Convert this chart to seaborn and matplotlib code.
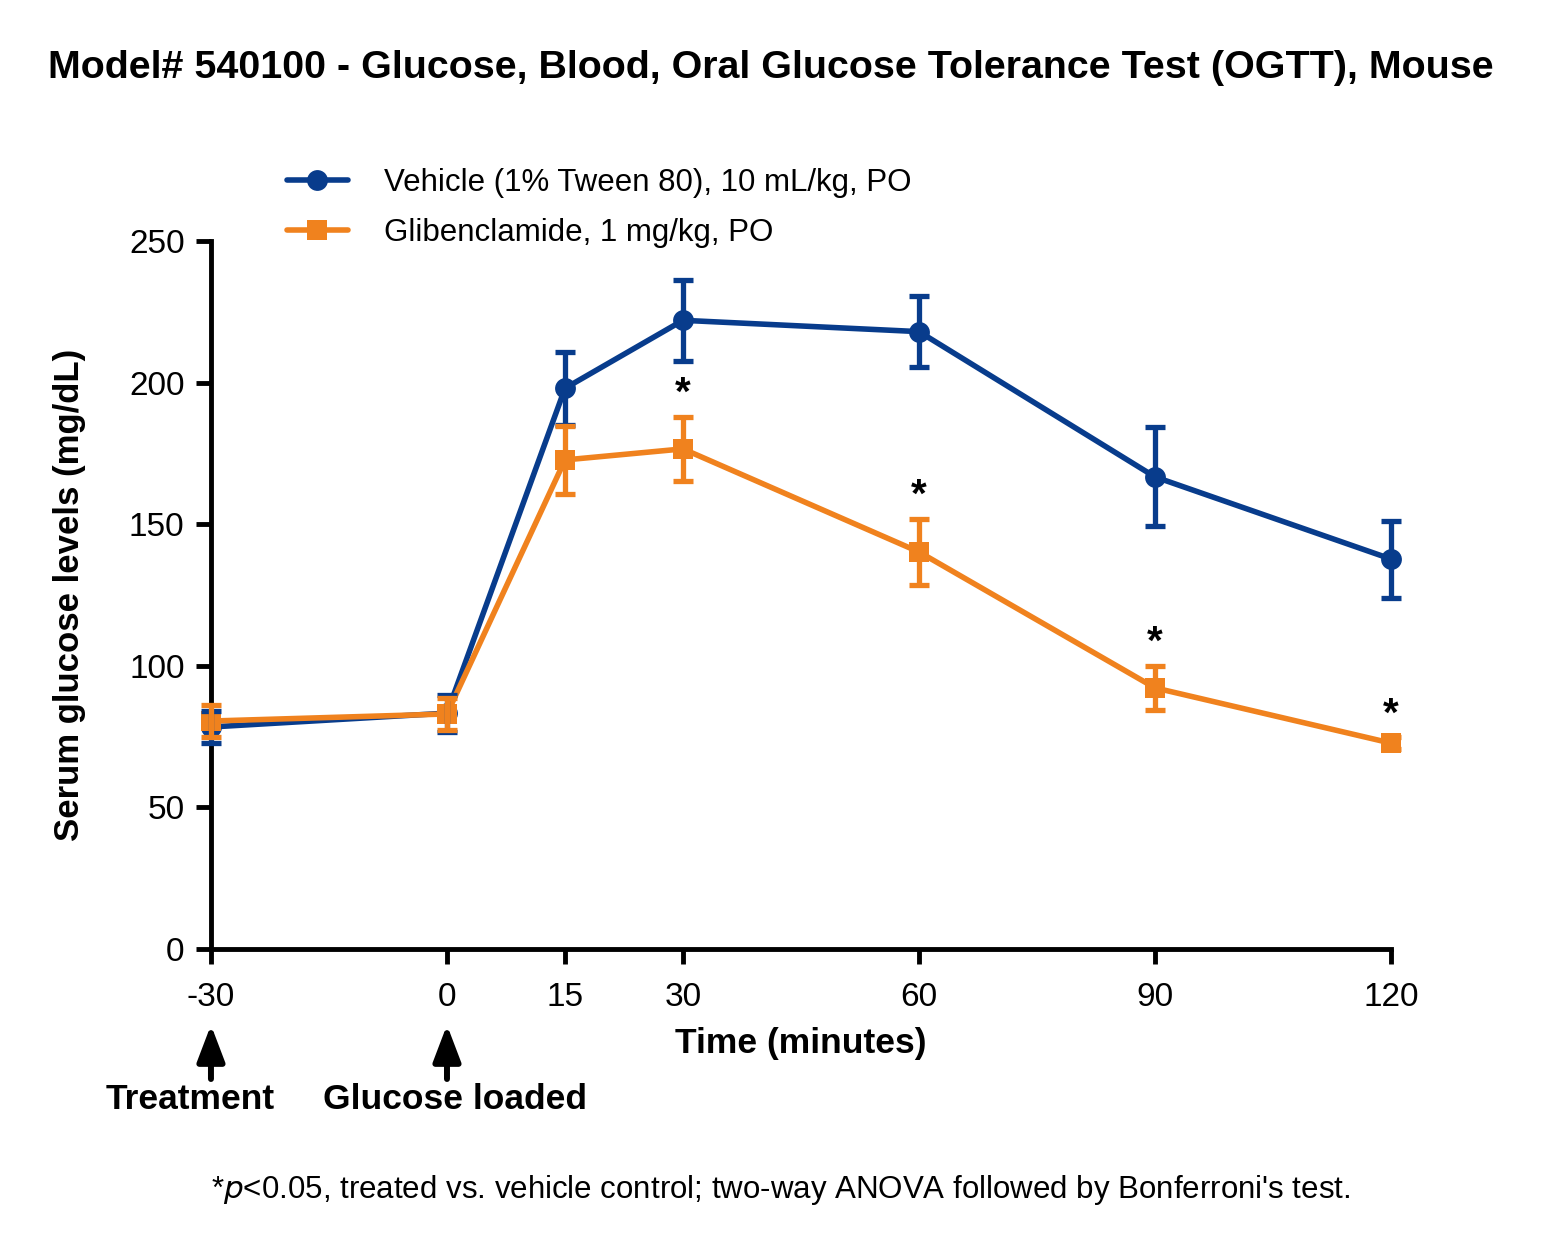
import matplotlib
matplotlib.use('Agg')
import matplotlib.pyplot as plt
import seaborn as sns
import pandas as pd

times = [-30, 0, 15, 30, 60, 90, 120]
tick_labels = ['-30', '0', '15', '30', '60', '90', '120']
vehicle = [78.4, 83.3, 198, 222, 218, 166.7, 137.7]
vehicle_sem = [5.7, 6.5, 12.8, 14.2, 12.6, 17.5, 13.6]
glib = [80.5, 83, 172.7, 176.6, 140.2, 92.2, 72.7]
glib_sem = [5.5, 5.8, 12, 11.3, 11.7, 7.7, 2]
star_times = [30, 60, 90, 120]

vehicle_name = 'Vehicle (1% Tween 80), 10 mL/kg, PO'
glib_name = 'Glibenclamide, 1 mg/kg, PO'
blue = '#083C8C'
orange = '#F0821E'

df = pd.DataFrame({
    'time': times * 2,
    'glucose': vehicle + glib,
    'sem': vehicle_sem + glib_sem,
    'group': [vehicle_name] * len(times) + [glib_name] * len(times),
})

sns.set_style('ticks')
plt.rcParams['font.family'] = ['Liberation Sans', 'DejaVu Sans']
plt.rcParams['text.color'] = 'black'
plt.rcParams['axes.labelcolor'] = 'black'
plt.rcParams['xtick.color'] = 'black'
plt.rcParams['ytick.color'] = 'black'

fig = plt.figure(figsize=(15.41, 12.52), dpi=100)
ax = fig.add_axes([0.1369, 0.242, 0.7658, 0.5655])

sns.lineplot(data=df, x='time', y='glucose', hue='group', style='group',
             palette=[blue, orange], markers=['o', 's'], dashes=False,
             linewidth=4, markersize=15, markeredgewidth=0, ax=ax,
             clip_on=False, zorder=3)

for name, col in [(vehicle_name, blue), (glib_name, orange)]:
    d = df[df['group'] == name]
    ax.errorbar(d['time'], d['glucose'], yerr=d['sem'], fmt='none',
                ecolor=col, elinewidth=3.8, capsize=7, capthick=3.8,
                clip_on=False, zorder=3)

for t in star_times:
    i = times.index(t)
    ax.annotate('*', (t, glib[i] + glib_sem[i]), xytext=(0, 3),
                textcoords='offset points', ha='center', va='bottom',
                fontsize=29, fontweight='bold')

ax.set_xlim(-30, 120)
ax.set_ylim(0, 250)
ax.set_xticks(times)
ax.set_xticklabels(tick_labels)
ax.set_yticks([0, 50, 100, 150, 200, 250])
ax.tick_params(axis='both', width=3.5, length=11, labelsize=24, color='black')
ax.tick_params(axis='x', pad=13)
ax.tick_params(axis='y', pad=8)
for s in ['left', 'bottom']:
    ax.spines[s].set_linewidth(3.5)
    ax.spines[s].set_color('black')
sns.despine(ax=ax)

ax.set_xlabel('Time (minutes)', fontsize=25.5, fontweight='bold', labelpad=10)
ax.set_ylabel('Serum glucose levels (mg/dL)', fontsize=25, fontweight='bold', labelpad=31)

leg = ax.legend(loc='upper left', bbox_to_anchor=(0.168, 0.888), bbox_transform=fig.transFigure,
                frameon=False, fontsize=22.5, handlelength=1.95, handletextpad=1.15,
                labelspacing=0.62)
for h in leg.legend_handles:
    h.set_linewidth(4)

fig.text(0.5, 1 - 68 / 1252, 'Model# 540100 - Glucose, Blood, Oral Glucose Tolerance Test (OGTT), Mouse',
         ha='center', va='center', fontsize=28.4, fontweight='bold')

# arrows below the axis: when drug and glucose were given
for t, tx, label in [(-30, -32.7, 'Treatment'), (0, 1.0, 'Glucose loaded')]:
    ax.annotate('', xy=(t, -26.8), xytext=(t, -45.9), xycoords='data', textcoords='data',
                annotation_clip=False,
                arrowprops=dict(arrowstyle='-|>,head_width=0.38,head_length=1.0',
                                mutation_scale=22, color='black', lw=4.3,
                                shrinkA=0, shrinkB=0))
    ax.text(tx, -53.3, label, ha='center', va='center', fontsize=25.5,
            fontweight='bold', clip_on=False)

fig.text(781 / 1541, 1 - 1190 / 1252,
         "*$p$<0.05, treated vs. vehicle control; two-way ANOVA followed by Bonferroni's test.",
         ha='center', va='center', fontsize=22.5)

fig.savefig('out.png', dpi=100)
